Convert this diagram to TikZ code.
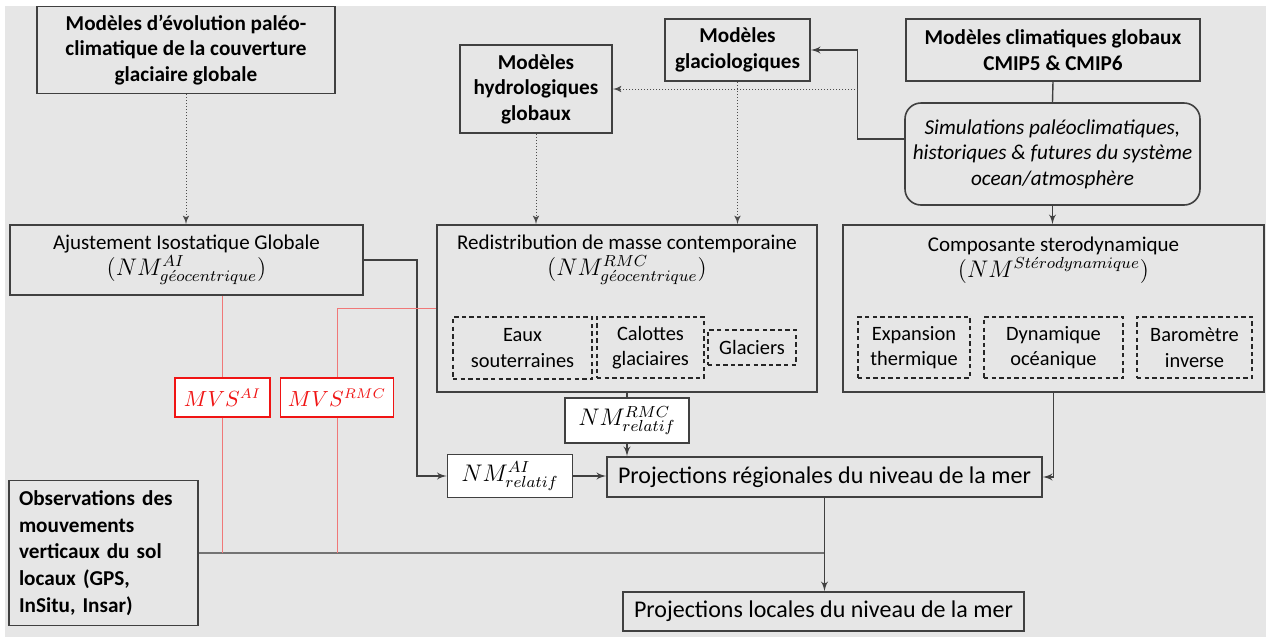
\documentclass[tikz,border=0pt]{standalone}
\usepackage{fontspec}
\setmainfont{Carlito}
\usepackage{tikz}
\usetikzlibrary{shapes,arrows,calc}
\usetikzlibrary{positioning}
\definecolor{bgc}{RGB}{230,230,230}
\definecolor{edge}{RGB}{64,64,64}
\definecolor{mvsred}{RGB}{240,20,20}
\definecolor{redline}{RGB}{240,120,120}
\tikzstyle{box}  = [rectangle, draw=edge, line width=0.8pt, align=center, inner sep=2pt, font=\fontsize{10.5}{12.8}\selectfont]
\tikzstyle{bbox} = [box, font=\fontsize{10.6}{12.8}\selectfont\bfseries]
\tikzstyle{sub}  = [rectangle, draw=black!85, dash pattern=on 2.2pt off 1.6pt, line width=0.6pt, align=center, inner sep=1pt, font=\fontsize{10.2}{12.6}\selectfont]
\tikzstyle{rel}  = [rectangle, draw=edge, fill=white, line width=0.8pt, inner sep=1pt]
\tikzstyle{mvs}  = [rectangle, draw=mvsred, fill=white, line width=0.7pt, text=mvsred, inner sep=1pt]
\tikzstyle{ptr}  = [draw=edge, line width=0.7pt, -latex']
\tikzstyle{dptr} = [draw=black!70, line width=0.5pt, densely dotted, -latex']
\tikzstyle{wire} = [draw=edge, line width=0.7pt]
\tikzstyle{gwire} = [draw=black!55, line width=0.6pt]
\tikzstyle{rwire} = [draw=redline, line width=0.5pt]
\newcommand{\fml}[1]{{\fontsize{11.5}{13}\selectfont$#1$}}
\newcommand{\mvsfml}[1]{{\fontsize{10.5}{12}\selectfont$#1$}}

\begin{document}
\begin{tikzpicture}[x=0.5pt, y=-0.5pt]

    \useasboundingbox (0,0) rectangle (1266,639);
    \fill[white] (0,0) rectangle (1266,639);
    \fill[bgc]   (5,6) rectangle (1266,637);

    % models
    \node[bbox, minimum width=149pt, minimum height=43.5pt] (paleo) at (186,50)
        {Modèles d’évolution paléo-\\climatique de la couverture\\glaciaire globale};
    \node[bbox, minimum width=76pt, minimum height=44pt]    (hydro)  at (536,89)   {Modèles\\hydrologiques\\globaux};
    \node[bbox, minimum width=72.5pt, minimum height=31pt]  (glacio) at (737.5,50) {Modèles\\glaciologiques};
    \node[bbox, minimum width=147pt, minimum height=31pt]   (cmip)   at (1053,50)  {Modèles climatiques globaux\\CMIP5 \& CMIP6};
    \node[box, rounded corners=8pt, minimum width=147.5pt, minimum height=51pt, font=\fontsize{10.6}{12.8}\selectfont\itshape] (sim) at (1052.5,154)
        {Simulations paléoclimatiques,\\historiques \& futures du système\\ocean/atmosphère};

    % components
    \node[box, minimum width=176.5pt, minimum height=35pt] (ai) at (186.5,260)
        {Ajustement Isostatique Globale\\\fml{(NM^{AI}_{g\acute{e}ocentrique})}};

    \node[box, minimum width=190pt, minimum height=83.5pt] (rmc) at (627,308.5) {};
    \node[align=center, font=\fontsize{10.5}{12.8}\selectfont] (rmctitle) at (627,260)
        {Redistribution de masse contemporaine\\\fml{(NM^{RMC}_{g\acute{e}ocentrique})}};
    \node[sub, minimum width=69.5pt, minimum height=31pt]   (eaux)     at (522.5,348) {Eaux\\souterraines};
    \node[sub, minimum width=53.5pt, minimum height=30.5pt] (calottes) at (650.5,347.5) {Calottes\\glaciaires};
    \node[sub, minimum width=44pt, minimum height=17.5pt]   (glaciers) at (752,347.5) {Glaciers};

    \node[box, minimum width=210.5pt, minimum height=83.5pt] (stereo) at (1053.5,308.5) {};
    \node[align=center, font=\fontsize{10.5}{12.8}\selectfont] (stertitle) at (1053.5,260)
        {Composante sterodynamique\\\fml{(NM^{St\acute{e}rodynamique})}};
    \node[sub, minimum width=56pt, minimum height=30.5pt]   (expansion) at (914,347.5)    {Expansion\\thermique};
    \node[sub, minimum width=69.5pt, minimum height=30.5pt] (dynamique) at (1053.5,347.5) {Dynamique\\océanique};
    \node[sub, minimum width=57.5pt, minimum height=30.5pt] (barometre) at (1194.5,347.5) {Baromètre\\inverse};

    % vertical land motion
    \node[mvs, minimum width=47.5pt, minimum height=19.5pt] (mvsai)  at (222.5,397.5) {\mvsfml{MVS^{AI}}};
    \node[mvs, minimum width=56.5pt, minimum height=19.5pt] (mvsrmc) at (337,397.5)   {\mvsfml{MVS^{RMC}}};

    % relative sea level
    \node[rel, minimum width=62pt, minimum height=22.5pt]   (nmrmc) at (627,420.5) {\fml{NM^{RMC}_{relatif}}};
    \node[rel, minimum width=62.5pt, minimum height=21.5pt] (nmai)  at (510,476)   {\fml{NM^{AI}_{relatif}}};
    \node[box, minimum width=217.5pt, minimum height=20pt, font=\fontsize{12}{14}\selectfont] (regional) at (824.5,477)
        {Projections régionales du niveau de la mer};
    \node[box, minimum width=200.5pt, minimum height=19.5pt, font=\fontsize{12}{14}\selectfont] (local) at (823.5,611.5)
        {Projections locales du niveau de la mer};
    \node[bbox, text width=84.5pt, align=left, inner sep=5pt, minimum height=68.5pt, font=\fontsize{10.6}{13.4}\selectfont\bfseries] (obs) at (103.5,553)
        {Observations des\\mouvements\\verticaux du sol\\locaux (GPS,\\InSitu, Insar)};

    \coordinate (jn) at (858,89);

    \draw[wire] (cmip.south) -- (sim.north);
    \path[ptr]  ([yshift=7.5pt]sim.west) -- ++(-47,0) |- (glacio.east);
    \draw[dptr] (jn) -- (hydro.east);
    \draw[dptr] (paleo.south)  -- (paleo.south |- ai.north);
    \draw[dptr] (hydro.south)  -- (hydro.south |- rmc.north);
    \draw[dptr] (glacio.south) -- (glacio.south |- rmc.north);
    \draw[ptr]  (sim.south) -- (sim.south |- stereo.north);

    \draw[ptr]  (ai.east) -- ++(53,0) |- (nmai.west);
    \draw[ptr]  (nmai.east) -- (nmai.east -| regional.west);
    \draw[wire] (rmc.south) -- (nmrmc.north);
    \draw[ptr]  (nmrmc.south) -- (nmrmc.south |- regional.north);
    \draw[ptr]  (stereo.south) |- (regional.east);
    \draw[gwire] (obs.east) -- (obs.east -| regional.south);
    \draw[ptr]  (regional.south) -- (regional.south |- local.north);

    \draw[rwire] (mvsai.north |- ai.south) -- (mvsai.north);
    \draw[rwire] (mvsai.south) -- (mvsai.south |- obs.east);
    \draw[rwire] (rmc.west) -| (mvsrmc.north);
    \draw[rwire] (mvsrmc.south) -- (mvsrmc.south |- obs.east);

\end{tikzpicture}
\end{document}
